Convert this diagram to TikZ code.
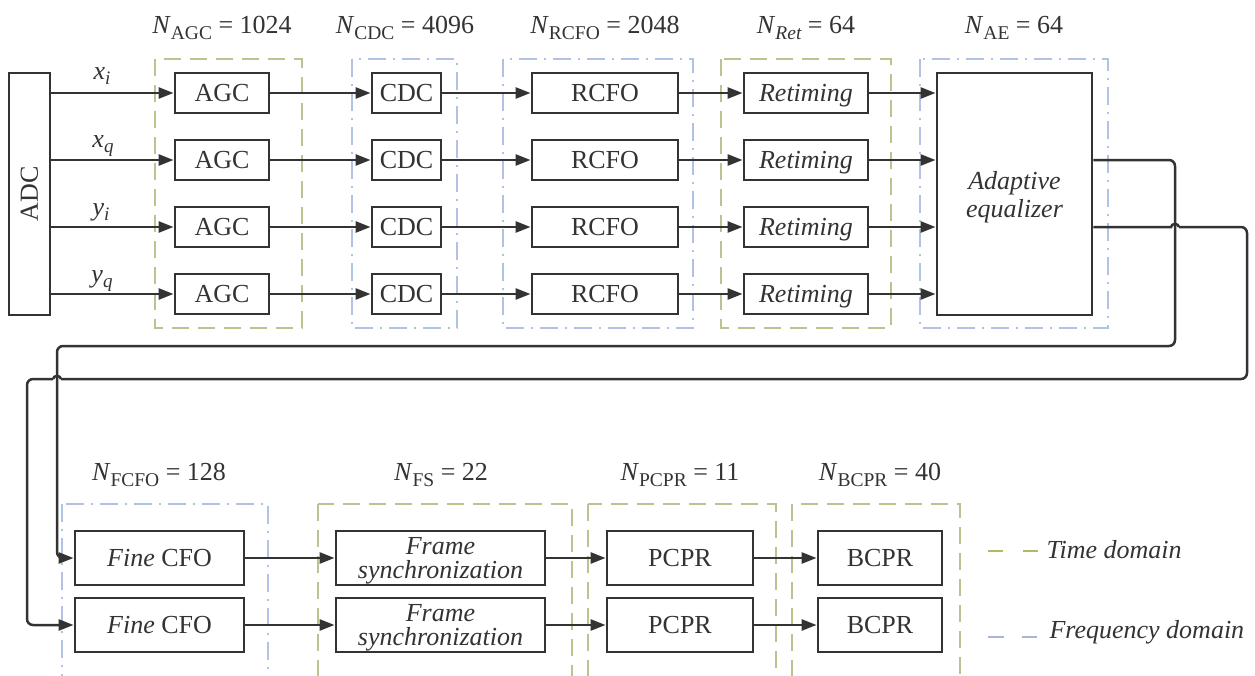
\documentclass[tikz,border=0pt]{standalone}
\usepackage{fontspec}
\setmainfont{Liberation Serif}
\usetikzlibrary{arrows.meta,calc}

\definecolor{ink}{RGB}{51,51,51}
\definecolor{tgreen}{RGB}{186,196,142}
\definecolor{fblue}{RGB}{178,194,228}
\definecolor{lgreen}{RGB}{168,190,96}
\definecolor{lblue}{RGB}{165,182,215}

% N with an upright (or given) subscript, then "= value"
\newcommand\Nlab[2]{\textit{N}\raisebox{-6pt}{\fontsize{19.5}{20}\selectfont #1} = #2}
% italic letter with italic subscript
\newcommand\sig[2]{\textit{#1}\raisebox{-5pt}{\fontsize{19}{19}\selectfont\itshape #2}}

\begin{document}
\begin{tikzpicture}[x=1pt,y=-1pt,
  font=\fontsize{26}{28}\selectfont, text=ink,
  frame/.style={draw=ink, line width=2.8pt, fill=white, inner sep=0pt},
  blk/.style={frame, minimum height=40pt, text height=17pt, text depth=0pt},
  lowblk/.style={blk, minimum height=54pt},
  twoline/.style={frame, minimum height=54pt, align=center, text depth=0pt,
    font=\fontsize{26}{23.5}\selectfont\itshape},
  arr/.style={draw=ink, line width=2.5pt, -{Triangle[length=15pt,width=11pt]}},
  wire/.style={draw=ink, line width=2.5pt},
  tgrp/.style={draw=tgreen, line width=2.5pt, dash pattern=on 17pt off 9pt},
  fgrp/.style={draw=fblue, line width=2.5pt, dash pattern=on 18pt off 7pt on 2pt off 7pt},
  lab/.style={anchor=base}]

\clip (0,0) rectangle (1255,675);

% ---------- domain frames ----------
\draw[tgrp] (155,59) rectangle (302,328);
\draw[fgrp] (352,59) rectangle (457,328);
\draw[fgrp] (503,59) rectangle (693,328);
\draw[tgrp] (721,59) rectangle (891,328);
\draw[fgrp] (920,59) rectangle (1108,328);

\draw[fgrp] (62,504) rectangle (268,700);
\draw[tgrp] (318,504) rectangle (572,700);
\draw[tgrp] (588,504) rectangle (776,700);
\draw[tgrp] (792,504) rectangle (960,700);

% ---------- stage sizes ----------
\node[lab] at (222,33) {\Nlab{AGC}{1024}};
\node[lab] at (405,33) {\Nlab{CDC}{4096}};
\node[lab] at (605,33) {\Nlab{RCFO}{2048}};
\node[lab] at (806,33) {\Nlab{\itshape Ret}{64}};
\node[lab] at (1014,33) {\Nlab{AE}{64}};

\node[lab] at (159,480) {\Nlab{FCFO}{128}};
\node[lab] at (441,480) {\Nlab{FS}{22}};
\node[lab] at (680,480) {\Nlab{PCPR}{11}};
\node[lab] at (880,480) {\Nlab{BCPR}{40}};

% ---------- upper chain ----------
\node[frame, rotate=90, minimum width=242pt, minimum height=41pt] (adc) at (29.5,194) {ADC};

\node[frame, minimum width=155pt, minimum height=242pt, align=center,
      font=\fontsize{26}{28}\selectfont\itshape, text depth=-3pt] (ae) at (1014.5,194)
      {Adaptive\\equalizer};

\foreach \r/\yy in {1/93,2/160,3/227,4/294} {
  \node[blk, minimum width=94pt]  (agc\r) at (222,\yy)   {AGC};
  \node[blk, minimum width=69pt]  (cdc\r) at (406.5,\yy) {CDC};
  \node[blk, minimum width=146pt] (rc\r)  at (605,\yy)   {RCFO};
  \node[blk, minimum width=124pt, font=\fontsize{26}{28}\selectfont\itshape] (ret\r) at (806,\yy) {Retiming};
  \draw[arr] (adc.south |- agc\r.west) -- (agc\r.west);
  \draw[arr] (agc\r.east) -- (cdc\r.west);
  \draw[arr] (cdc\r.east) -- (rc\r.west);
  \draw[arr] (rc\r.east) -- (ret\r.west);
  \draw[arr] (ret\r.east) -- (ae.west |- ret\r.east);
}

\node[lab] at (102,79)  {\sig{x}{i}};
\node[lab] at (103,147) {\sig{x}{q}};
\node[lab] at (101,215) {\sig{y}{i}};
\node[lab] at (102,282) {\sig{y}{q}};

% ---------- lower chain ----------
\foreach \r/\yy in {1/558,2/625} {
  \node[lowblk, minimum width=169pt] (fc\r) at (159.5,\yy) {\textit{Fine} CFO};
  \node[twoline, minimum width=209pt] (fs\r) at (440.5,\yy) {Frame\\synchronization};
  \node[lowblk, minimum width=146pt] (pc\r) at (680,\yy) {PCPR};
  \node[lowblk, minimum width=124pt] (bc\r) at (880,\yy) {BCPR};
  \draw[arr] (fc\r.east) -- (fs\r.west);
  \draw[arr] (fs\r.east) -- (pc\r.west);
  \draw[arr] (pc\r.east) -- (bc\r.west);
}

% ---------- feedback routing from the equalizer ----------
\draw[arr, rounded corners=6pt] (ae.east |- ret2.east) -- (1175,160) -- (1175,346)
  -- (57,346) -- (57,558) -- (fc1.west);

\draw[wire] (ae.east |- ret3.east) -- (1171,227)
  .. controls (1171.5,223) and (1178.5,223) .. (1179,227);
\draw[wire, rounded corners=6pt] (1179,227) -- (1247,227) -- (1247,379) -- (61,379);
\draw[wire] (61,379) .. controls (60.5,375) and (53.5,375) .. (53,379);
\draw[arr, rounded corners=6pt] (53,379) -- (27,379) -- (27,625) -- (fc2.west);

% ---------- legend ----------
\draw[lgreen, line width=2.5pt, dash pattern=on 15pt off 20pt] (988,551) -- (1042,551);
\node[anchor=base west, font=\fontsize{26}{28}\selectfont\itshape] at (1043,558) {Time domain};
\draw[lblue, line width=2.5pt, dash pattern=on 16pt off 18pt] (988,637) -- (1037,637);
\node[anchor=base west, font=\fontsize{26}{28}\selectfont\itshape] at (1046,638) {Frequency domain};

\end{tikzpicture}
\end{document}
